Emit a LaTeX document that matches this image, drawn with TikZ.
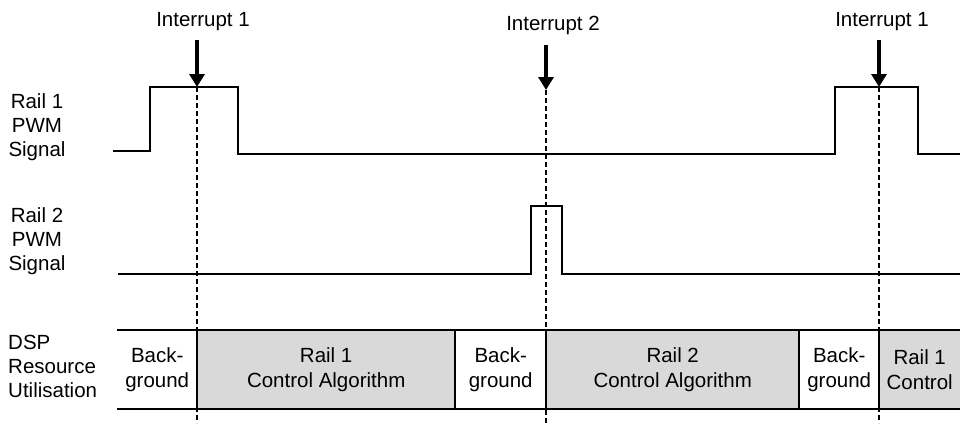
\documentclass[tikz,border=0pt]{standalone}
\usepackage{fontspec}
\setmainfont{Liberation Sans}
\usetikzlibrary{arrows.meta}

\begin{document}
\begin{tikzpicture}[x=1pt,y=-1pt,
    sig/.style={line width=2pt,line join=miter},
    irq/.style={line width=3.5pt,-{Triangle[length=13pt,width=15pt]}},
    guide/.style={line width=1.1pt,dash pattern=on 5pt off 3pt},
    frame/.style={line width=2.2pt},
    slot/.style={minimum height=79pt,inner sep=0pt,anchor=west,align=center,font=\fontsize{20.5}{25}\selectfont},
    busy/.style={slot,fill=black!15},
    lbl/.style={align=center,font=\fontsize{20.5}{24}\selectfont}]
    \useasboundingbox (0,0) rectangle (960,423);

    % Interrupt markers
    \node[lbl] (int1) at (203,22) {Interrupt 1};
    \node[lbl] (int2) at (553,25) {Interrupt 2};
    \node[lbl] (int3) at (882,22) {Interrupt 1};
    \coordinate (a1) at (197,40);  \coordinate (t1) at (197,87);  \coordinate (b1) at (197,423);
    \coordinate (a2) at (546,45);  \coordinate (t2) at (546,90);  \coordinate (b2) at (546,423);
    \coordinate (a3) at (879,40);  \coordinate (t3) at (879,87);  \coordinate (b3) at (879,423);
    \draw[guide] (t1) -- (b1);
    \draw[guide] (t2) -- (b2);
    \draw[guide] (t3) -- (b3);
    \draw[irq] (a1) -- (t1);
    \draw[irq] (a2) -- (t2);
    \draw[irq] (a3) -- (t3);

    % Row labels
    \node[lbl] (row1) at (37,127) {Rail 1\\PWM\\Signal};
    \node[lbl] (row2) at (37,241) {Rail 2\\PWM\\Signal};
    \node[lbl,align=left,anchor=west,inner sep=0pt] (row3) at (8,366) {DSP\\Resource\\Utilisation};

    % PWM waveforms
    \draw[sig] (113,151) -- (150,151) -- (150,87) -- (238,87) -- (238,154)
        -- (835,154) -- (835,87) -- (918,87) -- (918,154) -- (960,154);
    \draw[sig] (118,274) -- (531,274) -- (531,206) -- (562,206) -- (562,274) -- (960,274);

    % DSP time slots
    \node[slot,minimum width=80pt]  (bg1) at (117,369.5) {Back-\\ground};
    \node[busy,minimum width=258pt] (ctl1) at (197,369.5) {Rail 1\\Control Algorithm};
    \node[slot,minimum width=91pt]  (bg2) at (455,369.5) {Back-\\ground};
    \node[busy,minimum width=253pt] (ctl2) at (546,369.5) {Rail 2\\Control Algorithm};
    \node[slot,minimum width=80pt]  (bg3) at (799,369.5) {Back-\\ground};
    \node[busy,minimum width=81pt]  (ctl3) at (879,369.5) {Rail 1\\Control};
    \draw[frame] (bg1.north west) -- (ctl3.north east);
    \draw[frame] (bg1.south west) -- (ctl3.south east);
    \draw[frame] (ctl1.north west) -- (ctl1.south west);
    \draw[frame] (bg2.north west) -- (bg2.south west);
    \draw[frame] (ctl2.north west) -- (ctl2.south west);
    \draw[frame] (bg3.north west) -- (bg3.south west);
    \draw[frame] (ctl3.north west) -- (ctl3.south west);
\end{tikzpicture}
\end{document}
